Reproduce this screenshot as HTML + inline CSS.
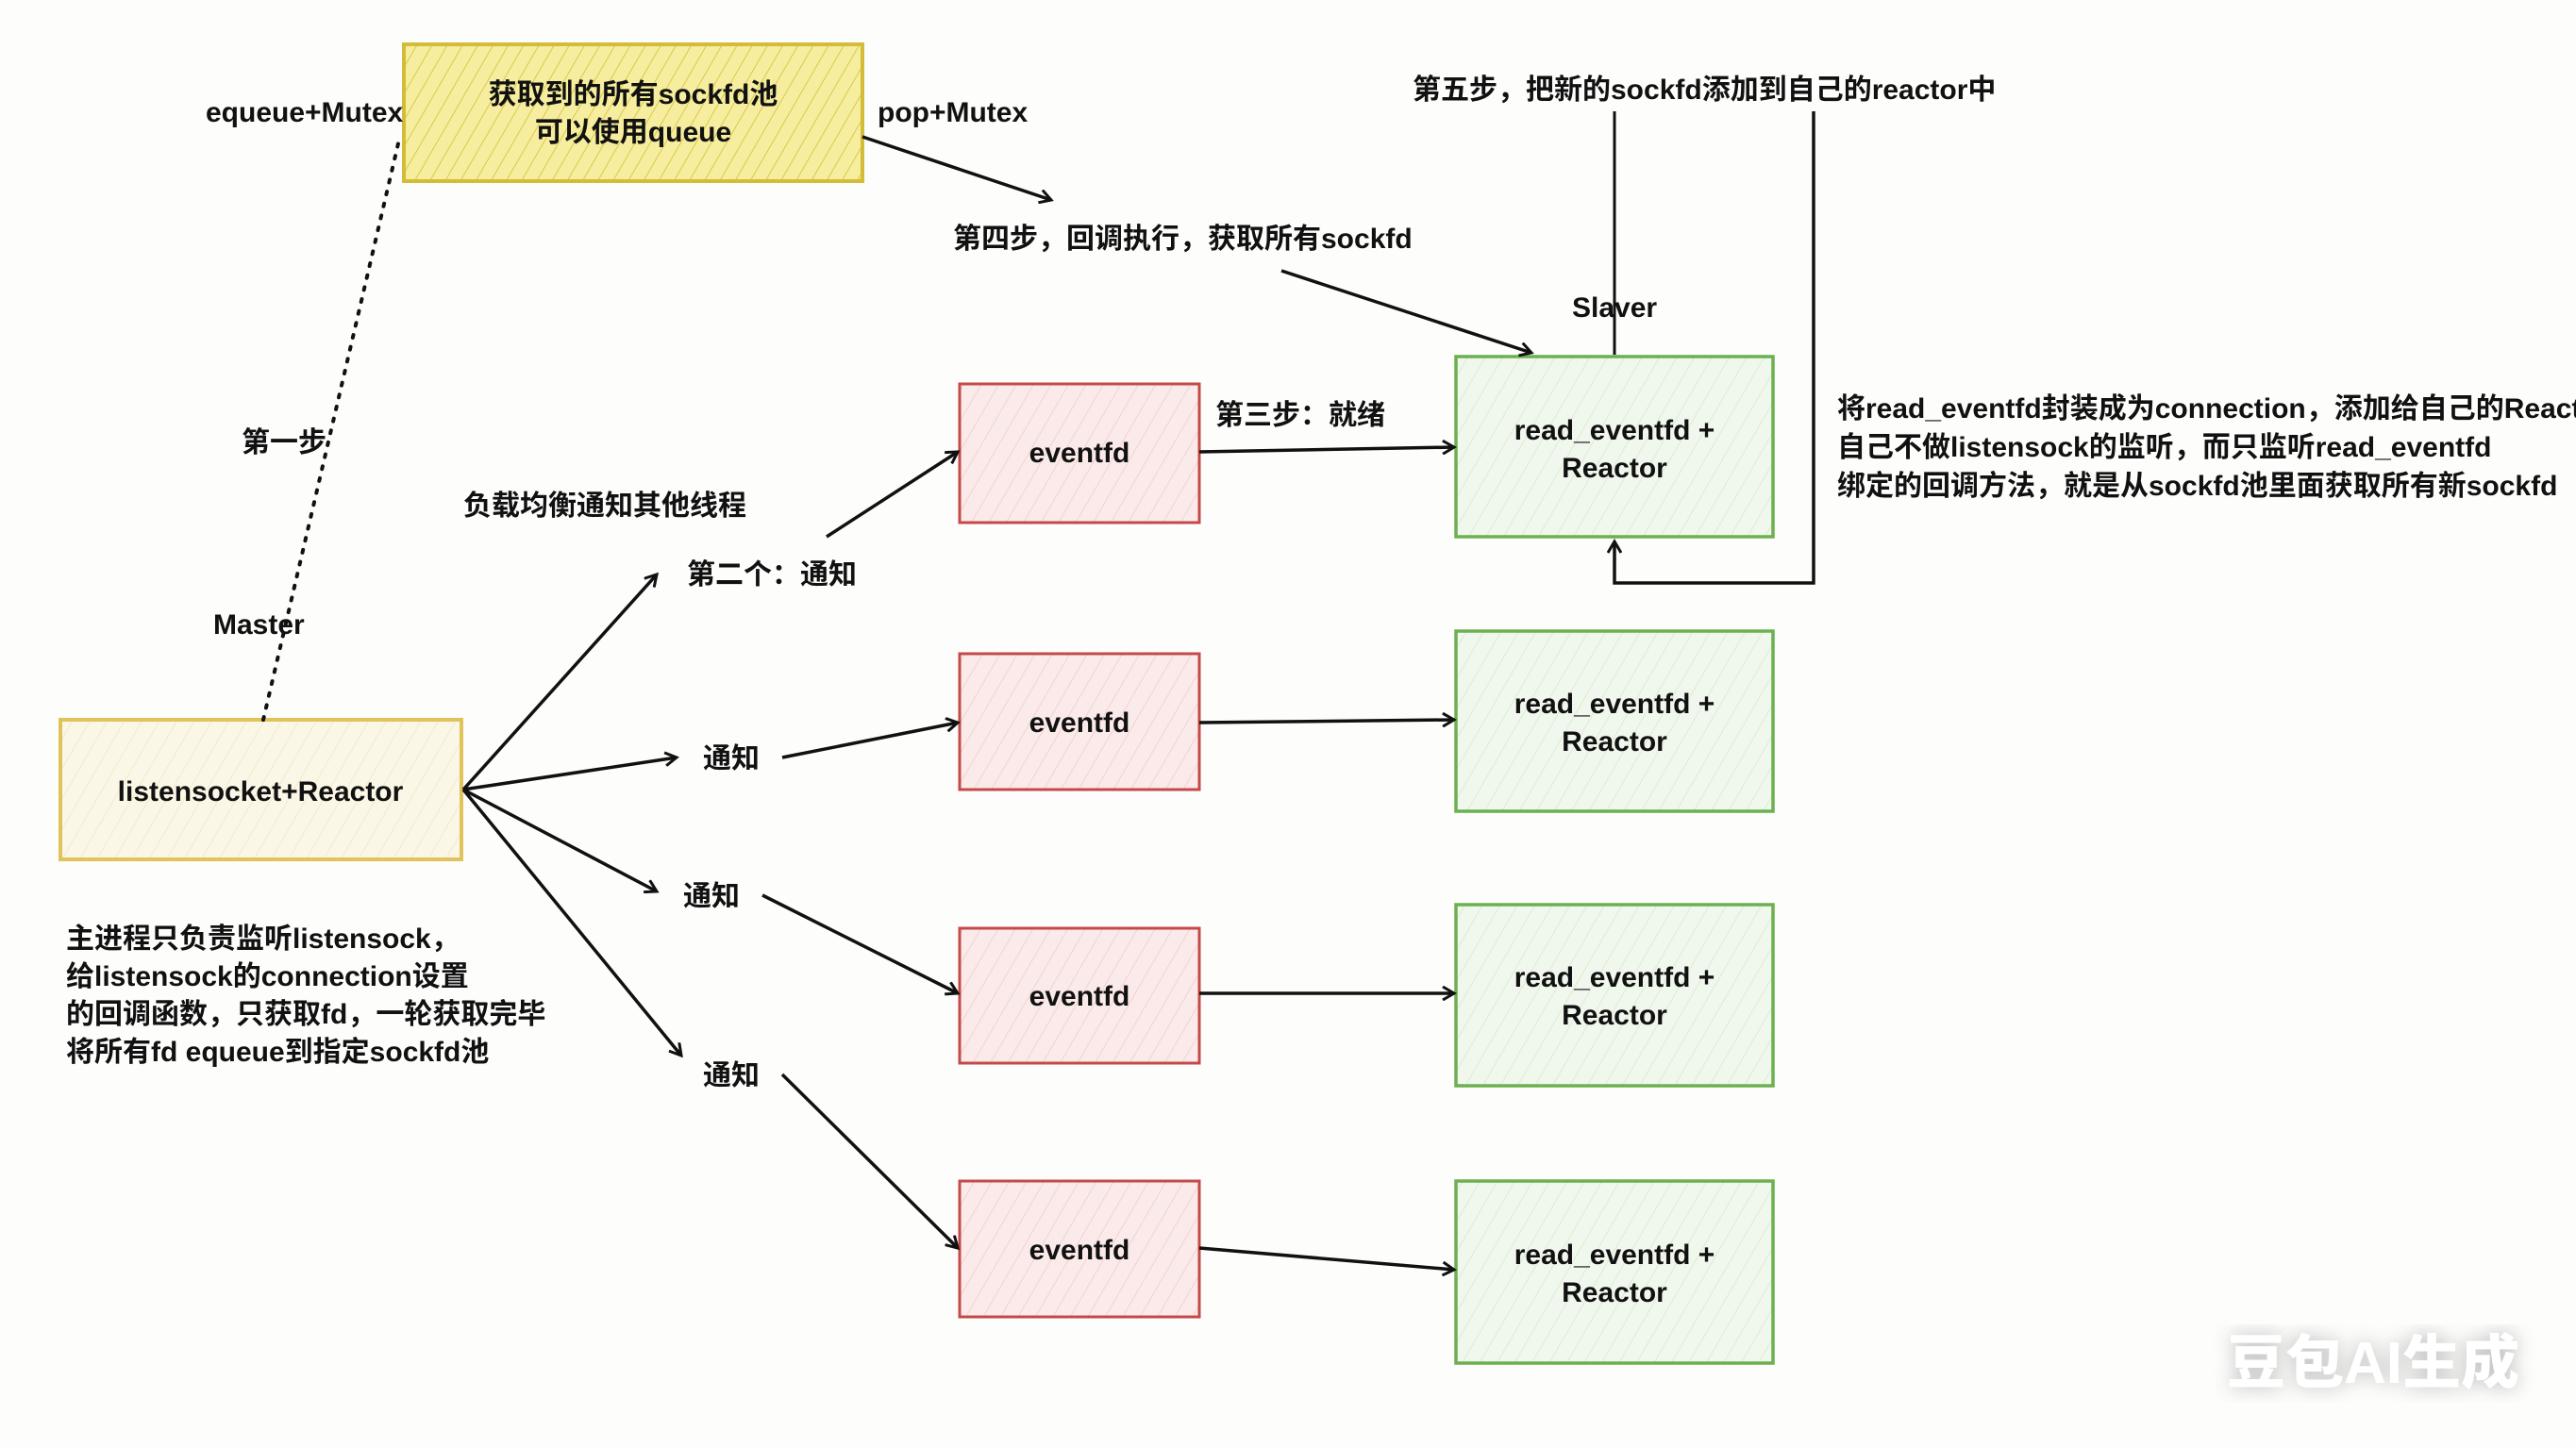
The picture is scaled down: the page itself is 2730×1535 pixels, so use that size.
<!DOCTYPE html>
<html><head><meta charset="utf-8"><style>
html,body{margin:0;padding:0;background:#fdfdfc;}
svg{display:block}
text{font-family:"Liberation Sans","Noto Sans CJK SC",sans-serif;fill:#111;font-weight:bold;}
</style></head><body>
<svg width="2730" height="1535" viewBox="0 0 2730 1535" xmlns="http://www.w3.org/2000/svg">
<defs>
<pattern id="hy" width="14" height="14" patternUnits="userSpaceOnUse" patternTransform="rotate(30)"><rect width="14" height="14" fill="#f6ee9e"/><line x1="0" y1="0" x2="0" y2="14" stroke="#d9c850" stroke-width="2"/></pattern>
<pattern id="hl" width="16" height="16" patternUnits="userSpaceOnUse" patternTransform="rotate(30)"><rect width="16" height="16" fill="#fbf7e6"/><line x1="0" y1="0" x2="0" y2="16" stroke="#efe6c4" stroke-width="1.5"/></pattern>
<pattern id="hr" width="16" height="16" patternUnits="userSpaceOnUse" patternTransform="rotate(30)"><rect width="16" height="16" fill="#fbeaea"/><line x1="0" y1="0" x2="0" y2="16" stroke="#efcaca" stroke-width="1.5"/></pattern>
<pattern id="hg" width="16" height="16" patternUnits="userSpaceOnUse" patternTransform="rotate(30)"><rect width="16" height="16" fill="#f0f7ec"/><line x1="0" y1="0" x2="0" y2="16" stroke="#d6e8cc" stroke-width="1.5"/></pattern>
<marker id="a" markerWidth="16" markerHeight="16" refX="13" refY="8" orient="auto" markerUnits="userSpaceOnUse"><path d="M1,1 L13,8 L1,15" fill="none" stroke="#111" stroke-width="3"/></marker>
<filter id="sh"><feGaussianBlur stdDeviation="10"/></filter>
</defs>

<rect x="428" y="47" width="486" height="145" fill="url(#hy)" stroke="#d4bb3a" stroke-width="4"/>
<rect x="64" y="763" width="425" height="148" fill="url(#hl)" stroke="#e0c45a" stroke-width="4"/>
<g fill="url(#hr)" stroke="#c44a4a" stroke-width="3">
<rect x="1017" y="407" width="254" height="147"/>
<rect x="1017" y="693" width="254" height="144"/>
<rect x="1017" y="984" width="254" height="143"/>
<rect x="1017" y="1252" width="254" height="144"/>
</g>
<g fill="url(#hg)" stroke="#6cb050" stroke-width="3.5">
<rect x="1543" y="378" width="336" height="191"/>
<rect x="1543" y="669" width="336" height="191"/>
<rect x="1543" y="959" width="336" height="192"/>
<rect x="1543" y="1252" width="336" height="193"/>
</g>

<g stroke="#111" stroke-width="3.5" fill="none" marker-end="url(#a)">
<line x1="914" y1="145" x2="1114" y2="212"/>
<line x1="1358" y1="287" x2="1623" y2="374"/>
<polyline points="1922,118 1922,618 1711,618 1711,574"/>
<line x1="491" y1="837" x2="696" y2="609"/>
<line x1="491" y1="837" x2="717" y2="803"/>
<line x1="491" y1="837" x2="696" y2="945"/>
<line x1="491" y1="837" x2="722" y2="1119"/>
<line x1="876" y1="569" x2="1015" y2="479"/>
<line x1="829" y1="803" x2="1015" y2="766"/>
<line x1="808" y1="949" x2="1015" y2="1053"/>
<line x1="829" y1="1139" x2="1015" y2="1323"/>
<line x1="1271" y1="479" x2="1541" y2="474"/>
<line x1="1271" y1="766" x2="1541" y2="763"/>
<line x1="1271" y1="1053" x2="1541" y2="1053"/>
<line x1="1271" y1="1323" x2="1541" y2="1346"/>
</g>
<line x1="1711" y1="118" x2="1711" y2="376" stroke="#111" stroke-width="3"/>
<line x1="279" y1="763" x2="423" y2="148" stroke="#111" stroke-width="4" stroke-dasharray="3,10" stroke-linecap="round"/>

<g font-size="30">
<text x="671" y="110" text-anchor="middle">获取到的所有sockfd池</text>
<text x="671" y="150" text-anchor="middle">可以使用queue</text>
<text x="218" y="129">equeue+Mutex</text>
<text x="930" y="129">pop+Mutex</text>
<text x="1010" y="263">第四步，回调执行，获取所有sockfd</text>
<text x="1497" y="105">第五步，把新的sockfd添加到自己的reactor中</text>
<text x="1666" y="336">Slaver</text>
<text x="256" y="479">第一步</text>
<text x="491" y="546">负载均衡通知其他线程</text>
<text x="728" y="619">第二个：通知</text>
<text x="226" y="672">Master</text>
<text x="745" y="814">通知</text>
<text x="724" y="960">通知</text>
<text x="745" y="1150">通知</text>
<text x="1288" y="450">第三步：就绪</text>
<text x="276" y="849" text-anchor="middle">listensocket+Reactor</text>
<text x="1144" y="490" text-anchor="middle">eventfd</text>
<text x="1144" y="776" text-anchor="middle">eventfd</text>
<text x="1144" y="1066" text-anchor="middle">eventfd</text>
<text x="1144" y="1335" text-anchor="middle">eventfd</text>
<text x="1711" y="466" text-anchor="middle">read_eventfd +</text><text x="1711" y="506" text-anchor="middle">Reactor</text>
<text x="1711" y="756" text-anchor="middle">read_eventfd +</text><text x="1711" y="796" text-anchor="middle">Reactor</text>
<text x="1711" y="1046" text-anchor="middle">read_eventfd +</text><text x="1711" y="1086" text-anchor="middle">Reactor</text>
<text x="1711" y="1340" text-anchor="middle">read_eventfd +</text><text x="1711" y="1380" text-anchor="middle">Reactor</text>
<text x="1947" y="443">将read_eventfd封装成为connection，添加给自己的Reactor</text>
<text x="1947" y="484">自己不做listensock的监听，而只监听read_eventfd</text>
<text x="1947" y="525">绑定的回调方法，就是从sockfd池里面获取所有新sockfd</text>
<text x="70" y="1005">主进程只负责监听listensock，</text>
<text x="70" y="1045">给listensock的connection设置</text>
<text x="70" y="1085">的回调函数，只获取fd，一轮获取完毕</text>
<text x="70" y="1125">将所有fd equeue到指定sockfd池</text>
</g>

<text x="2360" y="1466" font-size="62" style="fill:#777;font-weight:900" filter="url(#sh)" opacity="0.5">豆包AI生成</text>
<text x="2360" y="1466" font-size="62" style="fill:#ffffff;font-weight:900">豆包AI生成</text>
</svg>
</body></html>
